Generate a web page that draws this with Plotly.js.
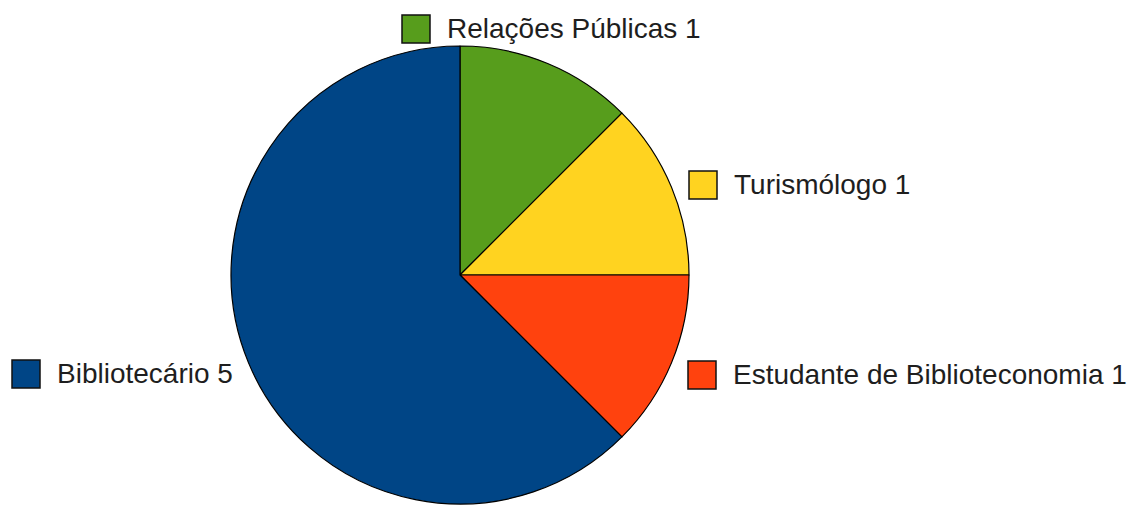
<!DOCTYPE html>
<html><head><meta charset="utf-8">
<script src="https://cdn.plot.ly/plotly-3.0.1.min.js"></script>
<style>html,body{margin:0;padding:0;background:#fff}#chart{width:1135px;height:510px}</style>
</head><body><div id="chart"></div>
<script>
const categories = ["Relações Públicas", "Turismólogo", "Estudante de Biblioteconomia", "Bibliotecário"];
const values = [1, 1, 1, 5];
const colors = ["#579d1c", "#ffd320", "#ff420e", "#004586"];

// legend label positions (pixels): square left, square center y
const labelPos = [
  {x: 402, y: 29},
  {x: 689, y: 185},
  {x: 688, y: 375},
  {x: 12, y: 374}
];
const W = 1135, H = 510, SQ = 28;

const shapes = [], annotations = [];
categories.forEach((c, i) => {
  const p = labelPos[i];
  shapes.push({type: "rect", xref: "paper", yref: "paper",
    x0: p.x / W, x1: (p.x + SQ) / W, y0: 1 - (p.y - SQ / 2) / H, y1: 1 - (p.y + SQ / 2) / H,
    fillcolor: colors[i], line: {color: "#111", width: 1.5}, layer: "above"});
  annotations.push({xref: "paper", yref: "paper", x: (p.x + SQ + 15) / W, y: 1 - (p.y - 1) / H,
    xanchor: "left", yanchor: "middle", showarrow: false,
    text: c + " " + values[i],
    font: {family: "Liberation Sans, Arial, sans-serif", size: 28, color: "#1e1e1e"}});
});

const data = [{
  type: "pie", labels: categories, values: values, sort: false, direction: "clockwise",
  rotation: 0, textinfo: "none", hoverinfo: "label+value",
  marker: {colors: colors, line: {color: "#000", width: 1.2}},
  domain: {x: [231 / W, 689 / W], y: [1 - 505 / H, 1 - 45 / H]}
}];

const layout = {
  width: W, height: H, margin: {l: 0, r: 0, t: 0, b: 0},
  paper_bgcolor: "#fff", plot_bgcolor: "#fff", showlegend: false,
  shapes: shapes, annotations: annotations
};
Plotly.newPlot("chart", data, layout, {displayModeBar: false, staticPlot: true});
</script></body></html>
